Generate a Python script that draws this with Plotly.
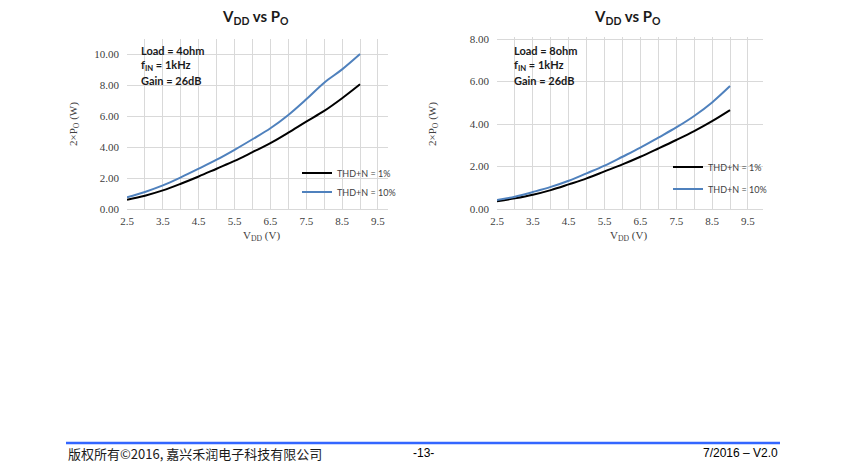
import plotly.graph_objects as go

# supply voltage (V)
vdd = [2.5, 3.0, 3.5, 4.0, 4.5, 5.0, 5.5, 6.0, 6.5, 7.0, 7.5, 8.0, 8.5, 9.0]

# 4 ohm load, 2 x Po (W)
po_4ohm_1pct = [0.60, 0.86, 1.20, 1.63, 2.10, 2.60, 3.10, 3.67, 4.25, 4.93, 5.64, 6.33, 7.15, 8.05]
po_4ohm_10pct = [0.75, 1.10, 1.52, 2.04, 2.60, 3.18, 3.82, 4.50, 5.21, 6.07, 7.08, 8.15, 9.01, 10.0]

# 8 ohm load, 2 x Po (W)
po_8ohm_1pct = [0.36, 0.50, 0.67, 0.89, 1.16, 1.44, 1.77, 2.10, 2.46, 2.85, 3.25, 3.67, 4.14, 4.66]
po_8ohm_10pct = [0.42, 0.58, 0.80, 1.04, 1.33, 1.68, 2.04, 2.46, 2.89, 3.36, 3.84, 4.38, 5.02, 5.79]

x_ticks = [2.5, 3.0, 3.5, 4.0, 4.5, 5.0, 5.5, 6.0, 6.5, 7.0, 7.5, 8.0, 8.5, 9.0, 9.5]
x_ticktext = ["2.5", "", "3.5", "", "4.5", "", "5.5", "", "6.5", "", "7.5", "", "8.5", "", "9.5"]

W, H = 850, 466
OFF = 8  # the page body adds an 8px margin around the plot div
BLACK = "#000000"
BLUE = "#4f81bd"
GRID = "#d9d9d9"
SERIF = "Liberation Serif"
SANS = "Lato"


# screen pixel -> paper fraction
def px_x(p):
    return (p - OFF) / W


def px_y(p):
    return 1 - (p - OFF) / H


fig = go.Figure()

fig.add_trace(go.Scatter(x=vdd, y=po_4ohm_1pct, name="THD+N = 1%", mode="lines",
                         line=dict(color=BLACK, width=2, shape="spline"),
                         xaxis="x", yaxis="y", legend="legend"))
fig.add_trace(go.Scatter(x=vdd, y=po_4ohm_10pct, name="THD+N = 10%", mode="lines",
                         line=dict(color=BLUE, width=2, shape="spline"),
                         xaxis="x", yaxis="y", legend="legend2"))
fig.add_trace(go.Scatter(x=vdd, y=po_8ohm_1pct, name="THD+N = 1%", mode="lines",
                         line=dict(color=BLACK, width=2, shape="spline"),
                         xaxis="x2", yaxis="y2", legend="legend3"))
fig.add_trace(go.Scatter(x=vdd, y=po_8ohm_10pct, name="THD+N = 10%", mode="lines",
                         line=dict(color=BLUE, width=2, shape="spline"),
                         xaxis="x2", yaxis="y2", legend="legend4"))

xcommon = dict(tickvals=x_ticks, ticktext=x_ticktext, showgrid=True, gridcolor=GRID,
               gridwidth=1, zeroline=False, showline=True, linecolor=GRID, ticks="",
               tickfont=dict(family=SERIF, size=11, color="#404040"), fixedrange=True,
               automargin=False, ticklabelstandoff=2)
ycommon = dict(tickformat=".2f", showgrid=True, gridcolor=GRID, gridwidth=1,
               zeroline=False, showline=False, ticks="",
               tickfont=dict(family=SERIF, size=11, color="#404040"), fixedrange=True,
               automargin=False, ticklabelstandoff=7)

leg_common = dict(font=dict(family=SANS, size=9, color="#404040"), bgcolor="rgba(0,0,0,0)",
                  xanchor="left", yanchor="middle", itemwidth=30)

fig.update_layout(
    width=W, height=H, autosize=False,
    margin=dict(l=0, r=0, t=0, b=0, pad=0, autoexpand=False),
    paper_bgcolor="white", plot_bgcolor="white",
    xaxis=dict(domain=[px_x(127), px_x(388)], range=[2.5, 9.78], anchor="y", **xcommon),
    yaxis=dict(domain=[px_y(209), px_y(39)], range=[0, 10.97], dtick=2, anchor="x", **ycommon),
    xaxis2=dict(domain=[px_x(497), px_x(763)], range=[2.5, 9.92], anchor="y2", **xcommon),
    yaxis2=dict(domain=[px_y(209), px_y(37)], range=[0, 8.1], dtick=2, anchor="x2", **ycommon),
    legend=dict(x=px_x(297), y=px_y(173), **leg_common),
    legend2=dict(x=px_x(297), y=px_y(192), **leg_common),
    legend3=dict(x=px_x(668), y=px_y(167), **leg_common),
    legend4=dict(x=px_x(668), y=px_y(189), **leg_common),
    showlegend=True,
)


def note(x, y, text, font, xanchor="center", angle=0):
    return dict(x=px_x(x), y=px_y(y), xref="paper", yref="paper", text=text,
                showarrow=False, xanchor=xanchor, yanchor="middle", textangle=angle,
                font=font)


ann = []
# chart titles
for cx in (255, 627):
    ann.append(note(cx, 17, "<b>V<sub>DD</sub> vs P<sub>O</sub></b>",
                    dict(family=SANS, size=15, color="#1a1a1a")))
# x axis titles
for cx in (261, 628):
    ann.append(note(cx, 236, "V<sub>DD</sub> (V)", dict(family=SERIF, size=11, color="#404040")))
# y axis titles
for cx in (74, 433):
    ann.append(note(cx, 124, "2×P<sub>O</sub> (W)", dict(family=SERIF, size=11, color="#404040"),
                    angle=-90))
# test conditions
for lx, load in ((139, "4ohm"), (512, "8ohm")):
    lines = ["Load = " + load, "f<sub>IN</sub> = 1kHz", "Gain = 26dB"]
    for i, t in enumerate(lines):
        ann.append(note(lx, 50 + 15 * i, "<b>" + t + "</b>",
                        dict(family=SANS, size=11, color="#1a1a1a"), xanchor="left"))
# footer
ann.append(note(66, 453, "版权所有©2016, 嘉兴禾润电子科技有限公司",
                dict(family="Noto Sans CJK SC", size=13, color="#1a1a1a"), xanchor="left"))
ann.append(note(423, 453, "-13-", dict(family="Liberation Sans", size=12, color="#000000")))
ann.append(note(780, 453, "7/2016 – V2.0", dict(family="Liberation Sans", size=12, color="#000000"),
                xanchor="right"))

fig.update_layout(annotations=ann)
fig.add_shape(type="line", xref="paper", yref="paper",
              x0=px_x(66), x1=px_x(780), y0=px_y(443), y1=px_y(443),
              line=dict(color="#3366ff", width=2.5))

fig.write_html("out.html")
